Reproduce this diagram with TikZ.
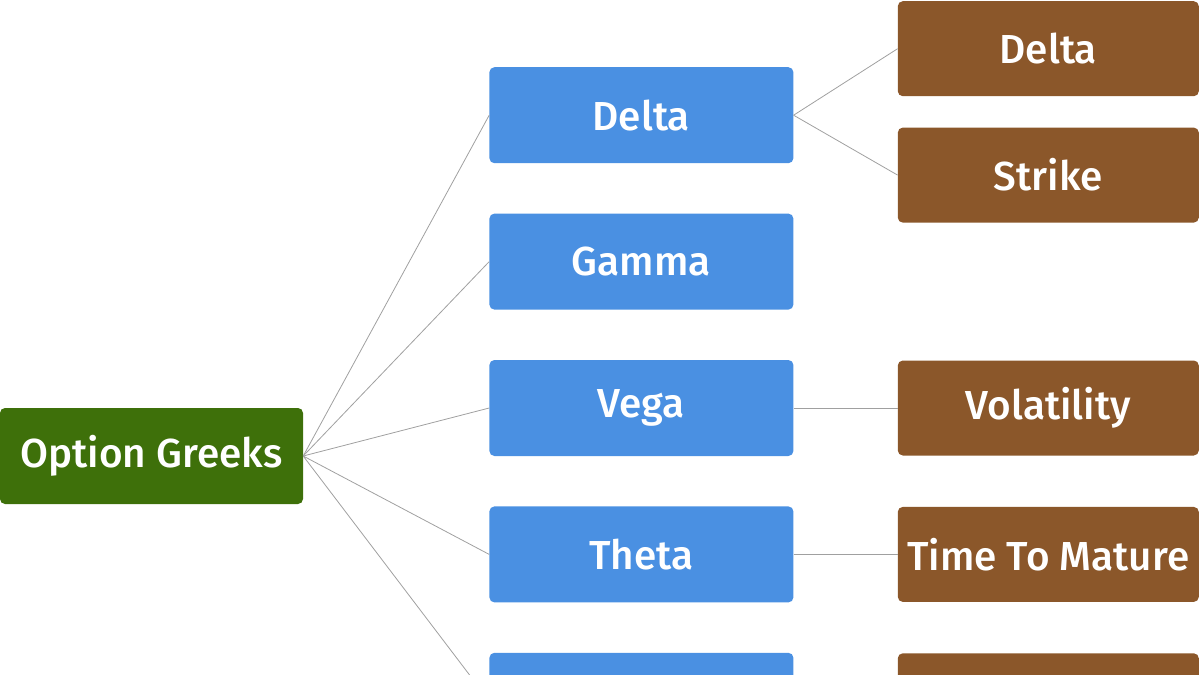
\documentclass[tikz,border=0pt]{standalone}
\usepackage{fontspec}
\setmainfont{Fira Sans Medium}
\usepackage{xcolor}
\usetikzlibrary{positioning}

\definecolor{rootgreen}{HTML}{3E700A}
\definecolor{midblue}{HTML}{4A90E2}
\definecolor{leafbrown}{HTML}{8B572A}
\definecolor{linkgray}{HTML}{A0A0A0}

\begin{document}
\begin{tikzpicture}[
    x=1pt, y=1pt,
    every node/.style={font=\fontsize{40.5}{44}\selectfont, text=white},
    box/.style={rectangle, minimum height=96pt, align=center,
                rounded corners=5pt, inner sep=0pt},
    rootbox/.style={box, fill=rootgreen, minimum width=303pt},
    mid/.style={box, fill=midblue, minimum width=304pt},
    leaf/.style={box, fill=leafbrown, minimum width=301pt, minimum height=95pt},
    link/.style={draw=linkgray, line width=0.8pt}
]
    \useasboundingbox (0,0) rectangle (1200,-675);
    \clip (0,0) rectangle (1200,-675);

    \node[rootbox] (root) at (151.5,-456) {Option Greeks};

    \node[mid, right=186pt of root, yshift=48pt] (vga) {Vega};
    \node[mid, above=50pt of vga] (gam) {Gamma};
    \node[mid, above=50pt of gam] (dlt) {Delta};
    \node[mid, below=50pt of vga] (tht) {Theta};
    \node[mid, below=50pt of tht] (m5) {};

    \node[leaf, right=104pt of dlt, yshift=66.5pt] (dltx) {Delta};
    \node[leaf, below=31pt of dltx] (strk) {Strike};
    \node[leaf, right=104pt of vga] (vol) {Volatility};
    \node[leaf, right=104pt of tht] (ttm) {Time To Mature};
    \node[leaf, right=104pt of m5] (l5) {};

    % root to greeks
    \foreach \g in {dlt, gam, vga, tht, m5}
        \draw[link] (root.east) -- (\g.west);

    % greeks to inputs
    \draw[link] (dlt.east) -- (dltx.west);
    \draw[link] (dlt.east) -- (strk.west);
    \draw[link] (vga.east) -- (vol.west);
    \draw[link] (tht.east) -- (ttm.west);
\end{tikzpicture}
\end{document}
